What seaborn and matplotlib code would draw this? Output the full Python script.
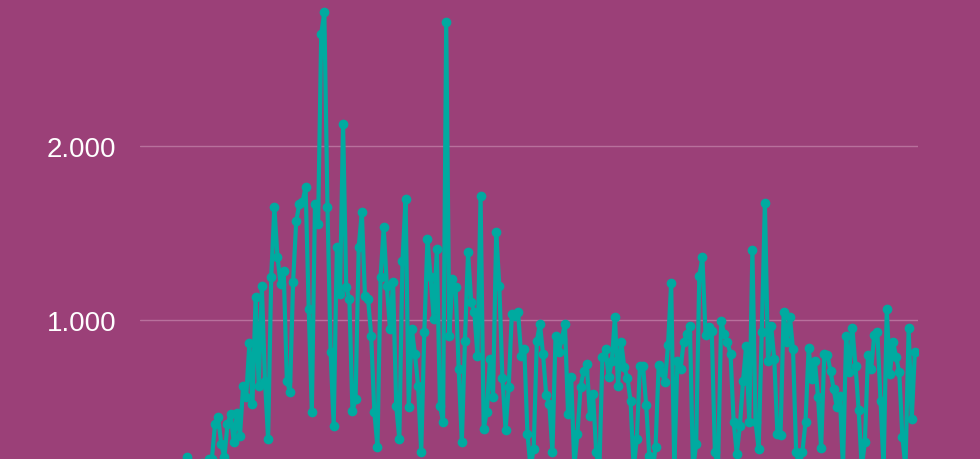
"""Daily series drawn as a teal line with dot markers on a magenta background."""

import matplotlib
matplotlib.use("Agg")
import matplotlib.pyplot as plt
import matplotlib.ticker as mticker
import pandas as pd
import seaborn as sns

# values, left to right (the early part sits below the visible area)
values = [
    20, 35, 60, 40, 80, 70, 100, 90, 120, 110, 150, 130, 160, 180,
    210, 150, 120, 170, 140, 180, 160, 200,
    200, 400, 440, 290, 210, 400, 460, 300, 465, 335, 620, 560, 865, 520, 1130,
    620, 1195, 650, 316, 1247, 1650, 1362, 1207, 1282, 650, 586, 1218, 1569,
    1667, 1678, 1764, 1063, 471, 1667, 1552, 2644, 2770, 1650, 816, 391, 1420,
    1149, 2126, 1190, 1121, 477, 546, 1420, 1621, 1138, 1121, 908, 471, 270,
    1247, 1534, 1196, 948, 1218, 506, 316, 1339, 1695, 500, 948, 805, 621, 241,
    931, 1466, 1247, 1006, 1408, 506, 414, 2713, 908, 1236, 1190, 718, 299, 879,
    1391, 1103, 1046, 793, 1713, 374, 471, 776, 557, 1506, 1196, 667, 368, 615,
    1035, 1023, 1046, 793, 833, 345, 150, 259, 879, 977, 805, 569, 517, 241,
    908, 816, 891, 977, 460, 672, 160, 345, 615, 707, 747, 448, 575, 241, 130,
    787, 833, 672, 764, 1017, 621, 874, 730, 667, 534, 150, 316, 736, 736,
    511, 218, 120, 270, 741, 701, 644, 856, 1213, 150, 764, 718, 874, 920, 966,
    140, 287, 1253, 1362, 914, 960, 937, 241, 150, 994, 920, 874, 805,
    414, 230, 391, 650, 851, 414, 1402, 414, 259, 931, 1672, 764, 966, 776, 345,
    339, 1046, 874, 1017, 833, 241, 150, 241, 414, 839, 661, 764, 557, 264, 805,
    799, 707, 603, 500, 563, 150, 908, 701, 954, 736, 483, 150, 299, 799, 718,
    914, 931, 534, 150, 1063, 690, 874, 787, 701, 328, 150, 954, 431, 816,
]
y_ticks = [1000, 2000]

bg = "#9b4078"
line_color = "#00aaa0"
grid_color = "#b8709c"

df = pd.DataFrame({"day": range(len(values)), "value": values})

sns.set_style("white")
plt.rcParams["font.family"] = ["Liberation Sans", "DejaVu Sans"]

fig = plt.figure(figsize=(9.8, 4.6), dpi=100, facecolor=bg)
# axes run past the bottom edge, like the cropped original
ax = fig.add_axes([140 / 980, -35 / 460, 778 / 980, 495 / 460])
ax.set_facecolor(bg)

sns.lineplot(
    data=df, x="day", y="value", ax=ax,
    color=line_color, linewidth=3, marker="o", markersize=7,
    markeredgewidth=0, markerfacecolor=line_color,
)

ax.set_ylim(0, 2845)
ax.set_xlim(-1, len(values))
ax.set_yticks(y_ticks)
ax.yaxis.set_major_formatter(
    mticker.FuncFormatter(lambda v, _: f"{int(v):,}".replace(",", "."))
)
ax.tick_params(axis="y", length=0, pad=17, labelsize=20, labelcolor="white")
ax.tick_params(axis="x", bottom=False, labelbottom=False)
ax.yaxis.grid(True, color=grid_color, linewidth=1)
ax.set_axisbelow(True)
ax.set_xlabel("")
ax.set_ylabel("")
sns.despine(ax=ax, left=True, bottom=True)

fig.savefig("out.png", dpi=100, facecolor=bg)
